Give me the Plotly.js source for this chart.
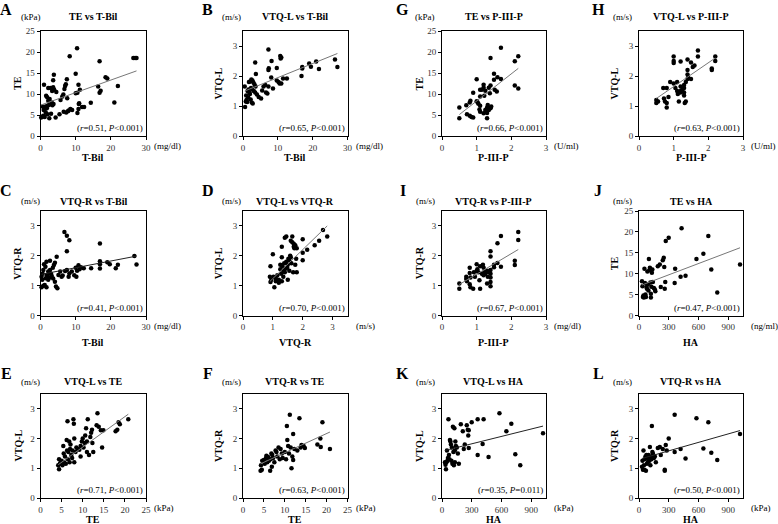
<!DOCTYPE html>
<html>
<head>
<meta charset="utf-8">
<script src="https://cdn.plot.ly/plotly-3.0.1.min.js"></script>
<style>
body{margin:0;background:#fff;}
#chart{width:778px;height:524px;}
</style>
</head>
<body>
<div id="chart"></div>
<script>
// A: TE vs T-Bil
var aX = [0.2,0.5,0.8,1.2,0.6,1.0,1.3,0.9,1.5,1.8,2.0,2.4,1.0,1.6,1.9,2.2,2.6,1.5,2.0,2.5,3.0,3.2,3.4,3.7,2.2,2.8,3.3,3.6,3.9,3.6,3.8,4.5,4.3,5.4,5.7,6.2,6.5,6.8,7.0,7.2,7.5,7.6,6.6,7.3,7.8,8.0,8.5,9.0,8.3,10.4,10.0,10.0,10.5,10.8,11.2,10.5,10.8,11.0,10.9,11.8,12.4,14.3,16.4,16.8,17.1,16.8,18.5,19.0,21.0,22.0,26.4,26.9,27.3];
var aY = [4.4,4.6,4.8,4.5,7.0,6.8,6.5,6.2,7.0,6.6,7.2,7.4,12.2,9.6,9.2,8.4,8.8,5.6,5.2,4.2,5.3,8.0,7.3,7.6,11.4,11.4,10.7,11.6,11.0,13.3,14.6,10.5,4.4,5.2,8.6,9.4,9.9,11.2,11.9,12.3,13.5,9.0,5.8,5.6,5.9,6.1,6.4,6.2,19.0,20.9,14.8,10.2,10.3,12.2,11.0,5.5,6.4,7.8,7.6,6.9,6.9,7.9,11.8,10.3,10.8,17.8,14.0,13.7,8.0,11.9,18.6,18.6,18.6];
var aFitX = [0.2,27.3];
var aFitY = [7.4,15.5];

// B: VTQ-L vs T-Bil
var bX = [0.6,0.8,1.0,1.2,1.5,0.9,0.5,1.3,1.6,1.8,2.0,2.2,2.5,2.8,1.7,2.1,2.4,2.7,3.0,3.3,3.6,2.3,2.6,3.1,3.5,4.0,3.5,3.7,4.5,5.2,5.5,5.9,6.4,6.6,7.0,7.3,7.3,7.4,7.3,8.2,8.1,8.6,9.7,9.7,10.2,10.5,10.7,11.0,10.8,11.5,11.0,12.6,16.8,17.0,17.0,19.0,19.5,21.0,21.8,26.4,27.1];
var bY = [0.97,1.15,1.2,1.13,1.28,1.35,1.65,1.5,1.55,1.45,1.4,1.22,1.12,1.08,1.8,1.82,1.88,1.85,1.78,1.72,1.65,1.6,1.55,1.5,1.45,1.38,2.45,2.07,1.3,1.25,1.52,1.65,1.7,1.45,1.42,1.65,2.2,2.26,2.88,2.5,1.95,1.58,2.27,1.85,1.8,1.75,2.67,2.62,2.58,1.92,1.75,1.92,2.0,2.3,2.25,2.42,2.31,2.48,2.23,2.55,2.3];
var bFitX = [0.5,27.1];
var bFitY = [1.5,2.75];

// G: TE vs P-III-P
var gX = [0.5,0.5,0.7,0.72,0.8,0.85,0.9,0.8,0.82,0.9,1.0,1.03,1.0,1.05,1.1,1.08,1.1,1.1,1.1,1.15,1.2,1.2,1.22,1.25,1.2,1.25,1.3,1.3,1.3,1.32,1.35,1.35,1.4,1.38,1.4,1.42,1.4,1.5,1.5,1.52,1.58,1.6,1.7,1.7,2.1,2.1,2.2,2.2];
var gY = [6.8,4.2,7.3,5.2,4.8,4.5,4.4,8.0,8.4,10.3,8.3,8.0,13.5,7.7,7.2,6.3,5.8,9.4,11.0,11.0,11.5,12.2,9.6,10.8,5.4,6.2,5.5,4.2,6.8,7.4,6.2,11.5,12.0,10.2,6.6,7.0,18.6,13.4,14.8,11.0,10.6,14.0,13.6,21.0,17.8,12.0,19.0,11.3];
var gFitX = [0.5,2.2];
var gFitY = [5.1,16.1];

// H: VTQ-L vs P-III-P
var hX = [0.5,0.5,0.55,0.7,0.72,0.75,0.8,0.8,0.8,0.85,0.9,1.0,1.0,1.0,1.0,1.05,1.1,1.1,1.12,1.15,1.2,1.2,1.2,1.2,1.25,1.3,1.3,1.3,1.3,1.32,1.35,1.35,1.4,1.4,1.4,1.4,1.42,1.5,1.5,1.55,1.6,1.7,1.7,2.1,2.1,2.2,2.2];
var hY = [1.1,1.2,1.15,1.6,1.25,1.15,1.1,0.95,1.6,1.3,1.8,2.65,2.5,2.43,1.75,1.6,1.5,1.8,1.4,1.15,1.65,1.5,1.45,2.48,1.55,1.6,1.45,1.35,1.7,1.1,1.8,1.15,2.55,2.2,2.05,1.9,1.95,2.45,1.9,2.3,2.35,2.85,2.65,2.25,2.2,2.65,2.5];
var hFitX = [0.5,2.2];
var hFitY = [1.25,2.6];

// C: VTQ-R vs T-Bil
var cX = [0.3,0.5,0.3,0.6,0.8,1.0,1.4,0.8,1.2,1.7,1.5,1.8,2.0,2.2,2.2,2.7,2.7,2.7,1.7,3.2,3.5,3.8,4.1,3.0,2.5,3.6,4.1,4.4,4.8,4.6,5.1,5.6,6.0,6.3,6.8,7.5,8.2,7.5,7.0,7.5,8.0,8.2,8.9,9.6,10.0,10.2,10.4,10.8,11.1,11.5,12.3,14.4,16.9,16.9,16.9,16.9,19.0,19.7,21.4,22.0,26.7,27.3];
var cY = [0.95,1.2,1.3,1.4,1.52,1.72,1.63,1.0,1.02,0.95,1.25,1.35,1.3,1.47,1.2,1.27,1.52,1.83,1.8,1.32,1.6,1.69,1.77,1.4,1.42,1.24,1.13,0.97,0.91,1.97,1.36,1.47,1.3,1.34,2.8,2.67,2.52,2.15,1.49,1.52,1.3,1.41,1.47,1.35,1.6,1.3,1.5,1.68,1.55,1.62,1.58,1.58,2.41,1.82,1.72,1.57,1.78,1.72,1.58,1.7,1.99,1.71];
var cFitX = [0.3,27.3];
var cFitY = [1.38,1.99];

// D: VTQ-L vs VTQ-R
var dX = [0.92,0.9,0.92,0.95,1.0,1.02,1.05,1.1,1.1,1.15,1.2,1.2,1.25,1.25,1.28,1.3,1.3,1.3,1.32,1.35,1.35,1.38,1.4,1.4,1.4,1.45,1.45,1.48,1.5,1.5,1.52,1.55,1.55,1.58,1.6,1.6,1.62,1.65,1.65,1.68,1.7,1.7,1.72,1.75,1.75,1.78,1.8,1.8,2.0,2.0,2.0,2.15,2.4,2.55,2.68,2.82];
var dY = [1.65,1.3,1.12,1.2,2.05,1.3,0.95,1.25,1.15,1.35,1.2,1.1,1.55,1.7,1.4,1.15,2.3,1.95,1.65,1.5,1.3,1.75,1.55,1.45,2.6,2.65,1.8,1.6,1.7,1.2,1.9,1.85,1.5,2.0,1.95,2.5,1.75,2.65,2.45,1.45,2.4,2.3,2.25,2.35,1.7,1.9,2.25,1.45,2.55,2.1,1.85,2.2,2.35,2.5,2.86,2.65];
var dFitX = [0.9,2.82];
var dFitY = [1.14,3.0];

// I: VTQ-R vs P-III-P
var iX = [0.5,0.5,0.7,0.7,0.72,0.8,0.8,0.82,0.8,0.82,0.9,0.92,0.95,1.0,1.0,1.02,1.05,1.08,1.1,1.1,1.15,1.18,1.2,1.2,1.22,1.25,1.3,1.3,1.32,1.35,1.4,1.4,1.4,1.4,1.4,1.4,1.4,1.5,1.5,1.6,1.6,1.7,1.7,2.1,2.1,2.2,2.2];
var iY = [1.07,0.9,1.3,1.22,1.15,1.6,1.42,1.27,1.05,0.95,0.9,1.45,1.3,1.72,1.5,1.55,1.45,1.18,1.65,0.9,1.4,1.7,1.6,1.35,1.45,1.4,1.5,1.07,1.3,1.45,2.15,1.98,1.52,1.4,1.27,1.12,0.98,1.7,1.62,2.42,1.76,2.66,1.63,1.83,1.69,2.8,2.53];
var iFitX = [0.5,2.2];
var iFitY = [1.04,2.21];

// J: TE vs HA
var jX = [30,35,40,45,50,55,60,65,70,75,80,85,90,95,100,105,110,115,120,120,125,130,135,140,150,160,165,190,210,220,240,250,255,260,265,270,300,360,365,420,430,470,580,650,700,730,790,1020];
var jY = [8.2,7.0,4.4,4.8,4.3,11.2,7.8,5.0,4.4,6.8,6.4,10.5,7.4,6.0,13.5,10.8,11.4,7.9,5.2,4.3,6.9,10.2,11.0,8.0,6.6,6.2,5.8,11.8,12.2,6.8,13.2,13.8,11.6,6.4,8.0,17.8,18.6,7.8,11.2,9.3,20.9,9.5,13.5,14.8,19.0,11.0,5.5,12.2];
var jFitX = [30,1020];
var jFitY = [7.3,16.2];

// E: VTQ-L vs TE
var eX = [4.2,4.4,4.4,4.6,4.8,5.0,5.2,5.4,5.5,5.6,5.8,6.0,6.2,6.3,6.4,6.5,6.6,6.8,6.9,7.0,7.1,7.3,7.5,7.6,7.8,7.9,8.0,8.0,8.3,8.5,8.8,9.2,9.5,9.5,9.8,10.0,10.2,10.5,10.6,10.8,11.0,11.0,11.2,11.5,11.8,12.0,12.2,12.3,12.5,13.3,13.5,13.8,14.3,14.6,14.9,17.8,18.2,18.5,18.8,20.8];
var eY = [1.1,0.97,1.3,1.15,1.2,1.25,1.1,1.75,1.5,1.2,1.4,1.15,1.95,1.6,2.58,1.3,1.55,1.9,1.2,1.65,1.8,1.45,1.35,1.6,2.65,2.5,2.0,1.2,1.55,1.7,1.65,1.62,1.75,1.4,1.9,2.0,1.7,1.85,2.1,2.35,1.9,1.55,2.65,1.45,2.05,2.2,2.3,1.85,1.55,2.45,2.85,2.4,2.28,1.7,2.28,2.25,2.3,2.55,2.48,2.65];
var eFitX = [4.2,20.8];
var eFitY = [1.12,2.82];

// F: VTQ-R vs TE
var fX = [4.2,4.3,4.5,4.6,5.0,5.2,5.5,5.6,5.8,6.0,6.2,6.5,6.6,6.8,6.9,7.0,7.2,7.5,7.8,8.0,8.2,8.5,8.8,9.0,9.3,9.5,10.0,10.3,10.5,10.6,10.8,11.0,11.2,11.4,11.6,11.8,12.0,12.0,12.3,13.0,13.5,13.8,14.0,14.5,14.8,17.8,18.5,18.6,19.0,20.8];
var fY = [0.92,1.1,0.95,1.25,1.28,1.15,1.35,1.42,1.2,1.38,1.25,0.92,1.3,1.5,1.05,1.45,1.35,1.2,1.6,1.55,1.4,1.7,1.3,1.65,1.5,1.35,1.55,1.3,2.42,1.95,1.75,1.5,2.8,1.7,1.0,1.4,2.15,1.28,1.65,1.6,2.68,1.7,1.78,1.75,1.68,1.8,2.0,1.72,2.55,1.65];
var fFitX = [4.2,20.8];
var fFitY = [1.15,2.22];

// K: VTQ-L vs HA
var kX = [30,35,40,45,50,55,60,65,70,75,80,85,90,95,100,105,110,115,120,125,130,130,135,140,150,160,170,190,210,220,230,250,260,265,270,270,300,360,360,410,420,470,580,650,700,740,790,1020];
var kY = [1.2,1.12,0.97,1.2,1.6,1.25,1.35,2.65,1.45,1.3,1.95,1.9,1.8,1.25,1.7,1.15,2.4,1.55,1.1,2.35,1.6,1.2,1.9,1.75,1.7,1.5,1.15,2.48,2.25,1.65,1.8,2.45,2.3,2.1,2.28,1.68,2.55,2.65,1.45,1.82,2.65,1.38,2.85,2.25,2.5,1.47,1.1,2.18];
var kFitX = [30,1020];
var kFitY = [1.6,2.42];

// L: VTQ-R vs HA
var lX = [30,35,40,45,50,55,60,65,70,75,80,85,90,95,100,105,110,115,120,125,130,135,140,150,160,170,190,210,220,240,260,260,270,280,300,360,360,420,470,580,650,700,730,790,1020];
var lY = [1.05,1.25,0.95,1.6,1.1,0.95,1.3,1.4,0.92,1.45,1.15,1.35,1.2,1.45,1.3,1.25,1.72,1.1,1.4,1.3,2.42,1.55,1.5,1.35,1.4,1.2,1.68,1.72,1.45,1.65,0.95,0.92,1.78,1.6,2.0,2.8,1.55,1.65,1.33,2.68,1.67,2.55,1.52,1.28,2.15];
var lFitX = [30,1020];
var lFitY = [1.33,2.27];

var letters = ['A','B','G','H','C','D','I','J','E','F','K','L'];
var titles = ['TE vs T-Bil','VTQ-L vs T-Bil','TE vs P-III-P','VTQ-L vs P-III-P',
  'VTQ-R vs T-Bil','VTQ-L vs VTQ-R','VTQ-R vs P-III-P','TE vs HA',
  'VTQ-L vs TE','VTQ-R vs TE','VTQ-L vs HA','VTQ-R vs HA'];
var xTitles = ['T-Bil','T-Bil','P-III-P','P-III-P','T-Bil','VTQ-R','P-III-P','HA','TE','TE','HA','HA'];
var yTitles = ['TE','VTQ-L','TE','VTQ-L','VTQ-R','VTQ-L','VTQ-R','TE','VTQ-L','VTQ-R','VTQ-L','VTQ-R'];
var xUnits = ['(mg/dl)','(mg/dl)','(U/ml)','(U/ml)','(mg/dl)','(m/s)','(mg/dl)','(ng/ml)','(kPa)','(kPa)','(kPa)','(kPa)'];
var yUnits = ['(kPa)','(m/s)','(kPa)','(m/s)','(m/s)','(m/s)','(m/s)','(m/s)','(m/s)','(m/s)','(m/s)','(m/s)'];
var rValues = ['0.51','0.65','0.66','0.63','0.41','0.70','0.67','0.47','0.71','0.63','0.35','0.50'];
var pValues = ['&lt;0.001','&lt;0.001','&lt;0.001','&lt;0.001','&lt;0.001','&lt;0.001','&lt;0.001','&lt;0.001','&lt;0.001','&lt;0.001','=0.011','&lt;0.001'];

var xs = [aX,bX,gX,hX,cX,dX,iX,jX,eX,fX,kX,lX];
var ys = [aY,bY,gY,hY,cY,dY,iY,jY,eY,fY,kY,lY];
var fitXs = [aFitX,bFitX,gFitX,hFitX,cFitX,dFitX,iFitX,jFitX,eFitX,fFitX,kFitX,lFitX];
var fitYs = [aFitY,bFitY,gFitY,hFitY,cFitY,dFitY,iFitY,jFitY,eFitY,fFitY,kFitY,lFitY];

// axis scale per kind
var scales = {
  tbil: {range:[0,30], dtick:10},
  te:   {range:[0,25], dtick:5},
  vtq:  {range:[0,3.5], dtick:1},
  p3p:  {range:[0,3], dtick:1},
  ha:   {range:[0,1050], dtick:300}
};
var xKind = ['tbil','tbil','p3p','p3p','tbil','vtq','p3p','ha','te','te','ha','ha'];
var yKind = ['te','vtq','te','vtq','vtq','vtq','vtq','te','vtq','vtq','vtq','vtq'];
var fitColor = ['#777','#777','#777','#777','#222','#777','#777','#777','#777','#777','#222','#222'];

// pixel boxes of the plot frames
var colL = [40.5,243,442,639], colR = [146,347.5,546,743];
var rowT = [31,211,394], rowB = [136,315.5,498];
var letterDx = [34,35,39,41], unitDx = [10,12,17,17], yTitleDx = [23,25,23,25];
var letterY = [9,190,373], titleY = [16,202,381], unitY = [17,201,382], xTitleY = [157,342,519];

var W = 778, H = 524;
function px(x){ return x / W; }
function py(y){ return 1 - y / H; }

var FONT = 'Liberation Serif, Times New Roman, serif';
var data = [];
var annotations = [];
var layout = {
  width: W, height: H,
  margin: {l:0, r:0, t:0, b:0},
  paper_bgcolor: '#fff', plot_bgcolor: '#fff',
  showlegend: false,
  font: {family: FONT, color: '#000'}
};

function addText(x, y, text, size, opts){
  var a = {xref:'paper', yref:'paper', x:px(x), y:py(y), text:text, showarrow:false,
    font:{family:FONT, size:size, color:'#000'}, xanchor:'center', yanchor:'middle'};
  for (var k in (opts || {})) a[k] = opts[k];
  annotations.push(a);
}

for (var i = 0; i < 12; i++) {
  var n = i + 1;
  var col = i % 4, row = Math.floor(i / 4);
  var sfx = (n == 1 ? '' : n);
  var xs_ = scales[xKind[i]], ys_ = scales[yKind[i]];
  var axisBase = {
    showline:true, mirror:true, linecolor:'#000', linewidth:1,
    showgrid:false, zeroline:false, ticks:'outside', ticklen:3, tickcolor:'#000',
    tickfont:{family:FONT, size:9, color:'#333'}, fixedrange:true
  };
  layout['xaxis' + sfx] = Object.assign({}, axisBase, {
    domain:[px(colL[col]), px(colR[col])], range:xs_.range, dtick:xs_.dtick, tick0:0,
    anchor:'y' + sfx
  });
  layout['yaxis' + sfx] = Object.assign({}, axisBase, {
    domain:[py(rowB[row]), py(rowT[row])], range:ys_.range, dtick:ys_.dtick, tick0:0,
    anchor:'x' + sfx
  });

  data.push({
    x: xs[i], y: ys[i], type:'scatter', mode:'markers',
    xaxis:'x' + sfx, yaxis:'y' + sfx,
    marker:{color:'#000', size:4.5}, cliponaxis:false, hoverinfo:'none'
  });
  data.push({
    x: fitXs[i], y: fitYs[i], type:'scatter', mode:'lines',
    xaxis:'x' + sfx, yaxis:'y' + sfx,
    line:{color:fitColor[i], width:1}, hoverinfo:'none'
  });

  var cx = (colL[col] + colR[col]) / 2, cy = (rowT[row] + rowB[row]) / 2;
  addText(colL[col] - letterDx[col], letterY[row], '<b>' + letters[i] + '</b>', 16);
  addText(cx, titleY[row], '<b>' + titles[i] + '</b>', 10);
  addText(colL[col] - unitDx[col], unitY[row], yUnits[i], 9);
  addText(colL[col] - yTitleDx[col], cy, '<b>' + yTitles[i] + '</b>', 10, {textangle:-90});
  addText(cx, xTitleY[row], '<b>' + xTitles[i] + '</b>', 10);
  addText(colR[col] + 6, rowB[row] + 10, xUnits[i], 9, {xanchor:'left'});
  addText(colR[col] - 1, rowB[row] - 8,
    '(<i>r</i>=' + rValues[i] + ', <i>P</i>' + pValues[i] + ')', 9, {xanchor:'right'});
}
layout.annotations = annotations;

Plotly.newPlot('chart', data, layout, {staticPlot:true, displayModeBar:false});
</script>
</body>
</html>
